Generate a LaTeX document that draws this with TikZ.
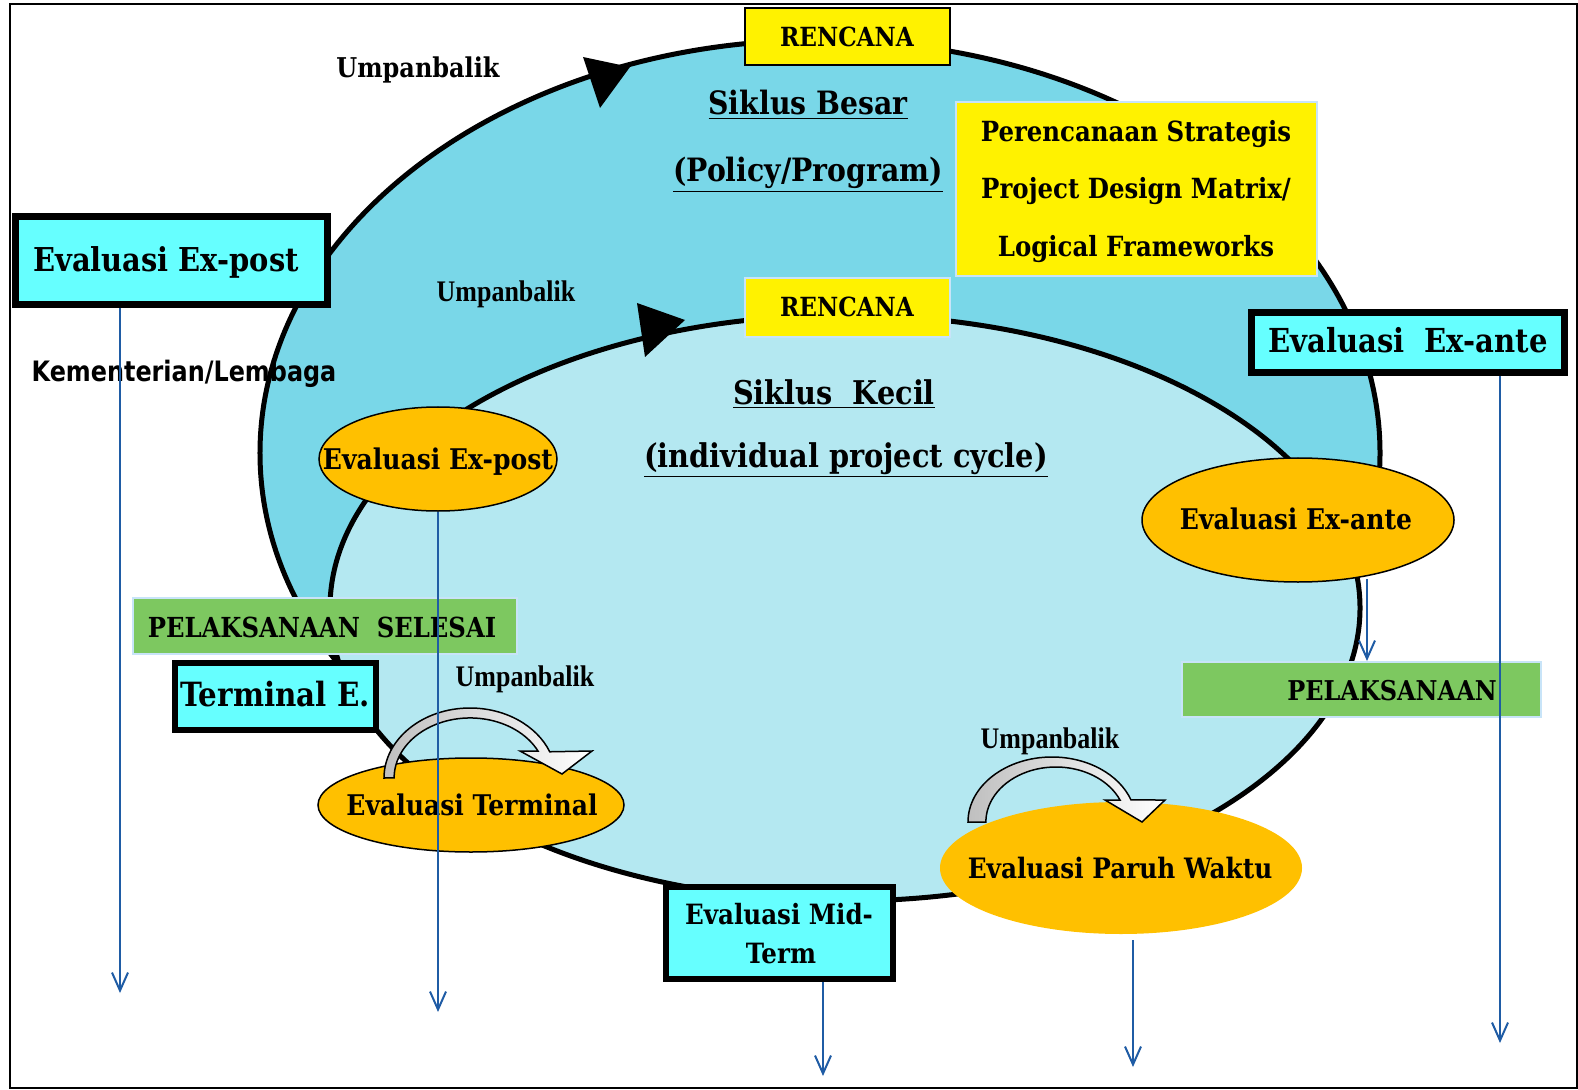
\documentclass[tikz,border=0pt]{standalone}
\usepackage{fontspec}
\usetikzlibrary{shapes.geometric}
\usetikzlibrary{arrows.meta}
\newfontfamily\slab{DejaVu Serif}[FakeStretch=0.88]
\newfontfamily\tms{Liberation Serif}[FakeStretch=0.87]
\newfontfamily\kem{DejaVu Sans}[FakeStretch=0.85]
\newcommand\slabsz[1]{\slab\bfseries\fontsize{#1}{#1}\selectfont}
\definecolor{outercyan}{RGB}{121,215,232}
\definecolor{innercyan}{RGB}{180,232,241}
\definecolor{boxcyan}{RGB}{102,255,255}
\definecolor{orng}{RGB}{255,192,0}
\definecolor{grn}{RGB}{125,200,96}
\definecolor{edgeblue}{RGB}{200,228,248}
\definecolor{flowblue}{RGB}{31,92,165}
\begin{document}
\begin{tikzpicture}[x=0.2mm, y=-0.2mm,
  ring/.style={ellipse, draw=black, line width=1mm, inner sep=0pt},
  oval/.style={ellipse, fill=orng, inner sep=0pt},
  cbox/.style={draw=black, line width=1.4mm, fill=boxcyan, inner sep=0pt},
  pale/.style={draw=edgeblue, line width=0.4mm, inner sep=0pt},
  lb/.style={inner sep=0pt, anchor=base},
  flow/.style={draw=flowblue, line width=0.4mm, -{Straight Barb[length=3.6mm, width=3.2mm]}},
  fback/.style={draw=black, line width=0.3mm, left color=black!25, right color=white}]
\useasboundingbox (0,0) rectangle (1578,1090);
\draw[line width=0.4mm] (10,4) rectangle (1577,1088);

\node[ring, fill=outercyan, minimum width=224mm, minimum height=165.2mm] (big) at (820,453) {};
\node[ring, fill=innercyan, minimum width=206mm, minimum height=117.2mm] (small) at (845,608) {};
\fill (583,57) -- (630,67) -- (600,108) -- cycle;
\fill (637,303) -- (685,320) -- (645,357) -- cycle;

\node[pale, draw=black, fill=yellow, minimum width=41mm, minimum height=11.4mm] (plan1) at (847.5,36.5) {};
\node[pale, fill=yellow, minimum width=41mm, minimum height=11.8mm] (plan2) at (847.5,307.5) {};
\node[pale, fill=yellow, minimum width=72.2mm, minimum height=34.8mm] (strat) at (1136.5,189) {};
\node[cbox, minimum width=62.4mm, minimum height=17.6mm] (bxpost) at (171.5,260.5) {};
\node[cbox, minimum width=62.6mm, minimum height=12mm] (bxante) at (1408,342.5) {};
\node[pale, fill=grn, minimum width=76.8mm, minimum height=11.2mm] (gdone) at (325,626) {};
\node[cbox, line width=1.2mm, minimum width=40.2mm, minimum height=13.4mm] (bterm) at (275.5,696.5) {};
\node[pale, fill=grn, minimum width=71.8mm, minimum height=11mm] (gexec) at (1361.5,689.5) {};
\node[cbox, line width=1.2mm, minimum width=45.4mm, minimum height=18.4mm] (bmid) at (779.5,933) {};

\node[oval, draw=black, line width=0.3mm, minimum width=47.6mm, minimum height=20.8mm] (oxpost) at (438,459) {};
\node[oval, draw=black, line width=0.3mm, minimum width=62.4mm, minimum height=24.8mm] (oxante) at (1298,520) {};
\node[oval, draw=black, line width=0.3mm, minimum width=61.2mm, minimum height=18.8mm] (oterm) at (471,805) {};
\node[oval, minimum width=72.4mm, minimum height=26.4mm] (opar) at (1121,868) {};

\draw[fback] (384,778) arc[start angle=180, end angle=338, x radius=86, y radius=70]
  -- (592,751) -- (562,774) -- (520,751) -- (538,751)
  arc[start angle=333.3, end angle=180, x radius=76, y radius=60] -- cycle;
\draw[fback] (968,822) arc[start angle=180, end angle=340.2, x radius=84, y radius=65]
  -- (1165,800) -- (1142,822) -- (1105,800) -- (1120,800)
  arc[start angle=336.4, end angle=180, x radius=70, y radius=55] -- cycle;

\node[lb, font=\slabsz{15.5}] at (418,78) {Umpanbalik};
\node[lb, font=\tms\bfseries\fontsize{17}{17}\selectfont] at (506,302) {Umpanbalik};
\node[lb, font=\tms\bfseries\fontsize{17}{17}\selectfont] at (525,686) {Umpanbalik};
\node[lb, font=\tms\bfseries\fontsize{17}{17}\selectfont] at (1050,748) {Umpanbalik};
\node[lb, font=\kem\bfseries\fontsize{16}{16}\selectfont] at (184,382) {Kementerian/Lembaga};
\node[lb, font=\slabsz{15}] at (847,47) {RENCANA};
\node[lb, font=\slabsz{15}] at (847,317) {RENCANA};
\node[lb, font=\slabsz{18.3}] at (808,115) {\underline{Siklus Besar}};
\node[lb, font=\slabsz{18.3}] at (808,182) {\underline{(Policy/Program)}};
\node[lb, font=\slabsz{15.8}] at (1136,142) {Perencanaan Strategis};
\node[lb, font=\slabsz{15.8}] at (1136,199) {Project Design Matrix/};
\node[lb, font=\slabsz{15.8}] at (1136,257) {Logical Frameworks};
\node[lb, font=\slabsz{18.7}] at (166,272) {Evaluasi Ex-post};
\node[lb, font=\slabsz{18.8}] at (1408,353) {Evaluasi\ \ Ex-ante};
\node[lb, font=\slabsz{18.6}] at (834,404) {\underline{Siklus\ \ Kecil}};
\node[lb, font=\slabsz{18.6}] at (846,467) {\underline{(individual project cycle)}};
\node[lb, font=\slabsz{16.2}] at (438,469) {Evaluasi Ex-post};
\node[lb, font=\slabsz{16.2}] at (1296,529) {Evaluasi Ex-ante};
\node[lb, font=\slabsz{15.7}] at (322,637) {PELAKSANAAN\ \ SELESAI};
\node[lb, font=\slabsz{19}] at (275,706) {Terminal E.};
\node[lb, font=\slabsz{16.2}] at (472,815) {Evaluasi Terminal};
\node[lb, font=\slabsz{15.5}] at (1392,700) {PELAKSANAAN};
\node[lb, font=\slabsz{16}] at (1120,878) {Evaluasi Paruh Waktu};
\node[lb, font=\slabsz{15.9}] at (779,924) {Evaluasi Mid-};
\node[lb, font=\slabsz{15.9}] at (781,963) {Term};

\coordinate (tipA) at (120,993);
\coordinate (tipB) at (438,1012);
\coordinate (tipC) at (823,1076);
\coordinate (tipD) at (1133,1067);
\coordinate (tipE) at (1500,1043);
\coordinate (srcF) at (1367,579);
\draw[flow] (bxpost.south -| tipA) -- (tipA);
\draw[flow] (oxpost.south) -- (tipB);
\draw[flow] (bmid.south -| tipC) -- (tipC);
\draw[flow, shorten <=1.2mm] (opar.south -| tipD) -- (tipD);
\draw[flow] (bxante.south -| tipE) -- (tipE);
\draw[flow] (srcF) -- (srcF |- gexec.north);
\end{tikzpicture}
\end{document}
